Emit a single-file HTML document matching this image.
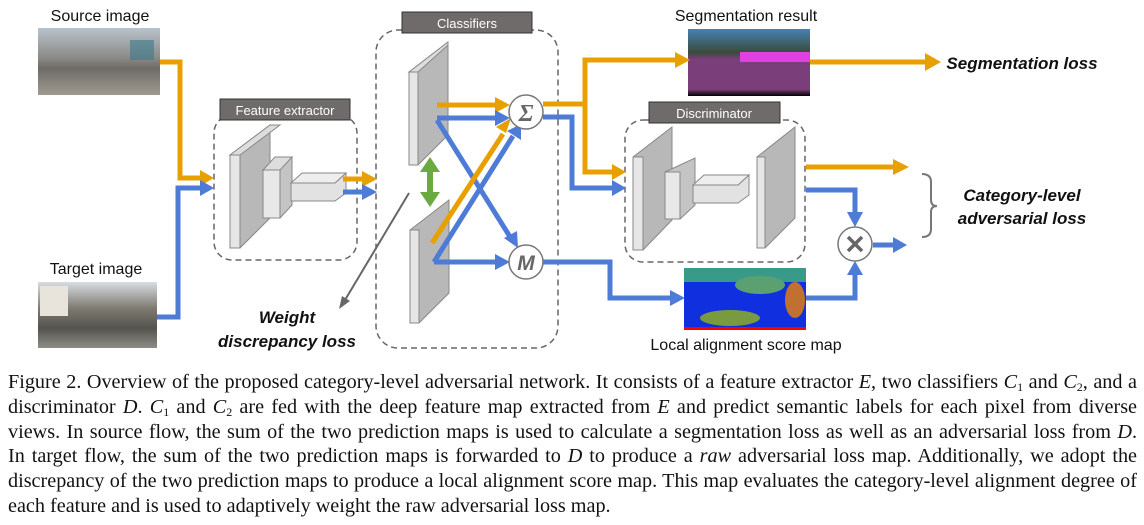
<!DOCTYPE html>
<html><head><meta charset="utf-8"><style>
body{margin:0;width:1144px;height:525px;background:#fff;overflow:hidden;position:relative;font-family:"Liberation Sans",sans-serif}
svg{position:absolute;left:0;top:0}
.cap{position:absolute;left:8px;top:370px;width:1129px;font-family:"Liberation Serif",serif;font-size:20.2px;color:#111}
.cap div{height:24.8px;line-height:24.8px;text-align:justify;text-align-last:justify;white-space:nowrap}
.cap div.l{text-align-last:left}
i{font-style:italic}
sub{font-size:12px;vertical-align:-3px;line-height:0}
</style></head><body>
<svg width="1144" height="360" viewBox="0 0 1144 360">
<defs>
<linearGradient id="src" x1="0" y1="0" x2="0" y2="1"><stop offset="0" stop-color="#b9c3cc"/><stop offset="0.45" stop-color="#8a8a86"/><stop offset="0.6" stop-color="#6e6a66"/><stop offset="1" stop-color="#a09a92"/></linearGradient>
<linearGradient id="tgt" x1="0" y1="0" x2="0" y2="1"><stop offset="0" stop-color="#d8dde2"/><stop offset="0.4" stop-color="#7d7a70"/><stop offset="0.7" stop-color="#55534e"/><stop offset="1" stop-color="#8e8c86"/></linearGradient>
<linearGradient id="seg" x1="0" y1="0" x2="0" y2="1"><stop offset="0" stop-color="#4682b4"/><stop offset="0.35" stop-color="#3a4a3a"/><stop offset="0.45" stop-color="#7a3f7a"/><stop offset="0.9" stop-color="#7a3f7a"/><stop offset="1" stop-color="#000"/></linearGradient>
</defs>
<g font-size="16" fill="#111">
<text x="100" y="21" text-anchor="middle">Source image</text>
<text x="96" y="274" text-anchor="middle">Target image</text>
<text x="746" y="21" text-anchor="middle">Segmentation result</text>
<text x="746" y="350" text-anchor="middle">Local alignment score map</text>
</g>
<g font-size="17" font-weight="bold" font-style="italic" fill="#111" text-anchor="middle">
<text x="1022" y="69">Segmentation loss</text>
<text x="1022" y="201">Category-level</text>
<text x="1022" y="224">adversarial loss</text>
<text x="287" y="323">Weight</text>
<text x="287" y="347">discrepancy loss</text>
</g>
<rect x="38" y="28" width="122" height="67" fill="url(#src)"/>
<rect x="130" y="40" width="24" height="20" fill="#3a7a8a" opacity="0.6"/>
<rect x="38" y="282" width="119" height="66" fill="url(#tgt)"/>
<rect x="40" y="286" width="28" height="30" fill="#e8e4dc"/>
<rect x="688" y="29" width="122" height="67" fill="url(#seg)"/>
<rect x="740" y="52" width="70" height="10" fill="#e040e0"/>
<rect x="684" y="268" width="122" height="62" fill="#1030e0"/>
<rect x="684" y="268" width="122" height="14" fill="#3a9a8a"/>
<ellipse cx="760" cy="285" rx="25" ry="9" fill="#5aa070"/>
<ellipse cx="795" cy="300" rx="10" ry="18" fill="#c07030"/>
<ellipse cx="730" cy="318" rx="30" ry="8" fill="#7a9a40"/>
<rect x="684" y="327" width="122" height="3" fill="#f00"/>
<g fill="none" stroke="#666" stroke-width="1.5" stroke-dasharray="6,4">
<rect x="214" y="115" width="143" height="145" rx="18"/>
<rect x="376" y="30" width="182" height="318" rx="22"/>
<rect x="625" y="120" width="180" height="142" rx="18"/>
</g>
<g fill="#6f6b6a" stroke="#333" stroke-width="1"><rect x="220" y="99" width="130" height="21"/><rect x="402" y="12" width="130" height="21"/><rect x="649" y="102" width="131" height="21"/></g>
<g fill="#fff" font-size="13" text-anchor="middle"><text x="285" y="115">Feature extractor</text><text x="467" y="28">Classifiers</text><text x="714" y="118">Discriminator</text></g>
<g stroke="#888" stroke-width="1">
<polygon points="230,155 270,125 270,218 240,248 230,248" fill="#b8b8b8"/><polygon points="230,155 240,155 240,248 230,248" fill="#e6e6e6"/><polygon points="230,155 270,125 280,125 240,155" fill="#ddd"/>
<polygon points="263,170 292,157 292,205 280,218 263,218" fill="#c4c4c4"/><polygon points="263,170 280,170 280,218 263,218" fill="#e8e8e8"/><polygon points="263,170 275,157 292,157 280,170" fill="#ddd"/>
<polygon points="291,183 335,183 346,173 346,193 335,201 291,201" fill="#e2e2e2"/><polygon points="291,183 302,173 346,173 335,183" fill="#eee"/>
<polygon points="409,72 448,42 448,135 418,165 409,165" fill="#b8b8b8"/><polygon points="409,72 418,72 418,165 409,165" fill="#e6e6e6"/><polygon points="409,72 448,42 448,45 418,72" fill="#ddd"/>
<polygon points="410,230 449,200 449,293 419,323 410,323" fill="#b8b8b8"/><polygon points="410,230 419,230 419,323 410,323" fill="#e6e6e6"/>
<polygon points="633,157 672,127 672,220 643,250 633,250" fill="#b8b8b8"/><polygon points="633,157 643,157 643,250 633,250" fill="#e6e6e6"/>
<polygon points="665,172 695,158 695,205 680,219 665,219" fill="#c4c4c4"/><polygon points="665,172 680,172 680,219 665,219" fill="#e8e8e8"/>
<polygon points="693,185 738,185 749,175 749,195 738,203 693,203" fill="#e2e2e2"/><polygon points="693,185 704,175 749,175 738,185" fill="#eee"/>
<polygon points="757,157 795,127 795,218 765,248 757,248" fill="#b8b8b8"/><polygon points="757,157 765,157 765,248 757,248" fill="#e6e6e6"/>
</g>
<g fill="none" stroke-width="5" stroke-linejoin="miter">
<path d="M160,62H180V178H200" stroke="#e8a000"/>
<path d="M157,317H178V188H200" stroke="#4e7bd6"/>
<path d="M343,179H362" stroke="#e8a000"/>
<path d="M343,192H362" stroke="#4e7bd6"/>
<path d="M437,105H495" stroke="#e8a000"/>
<path d="M437,118H495" stroke="#4e7bd6"/>
<path d="M437,120L512,240" stroke="#4e7bd6"/>
<path d="M434,262L513,136" stroke="#4e7bd6"/>
<path d="M432,243L503,134" stroke="#e8a000"/>
<path d="M434,262H495" stroke="#4e7bd6"/>
<path d="M543,104H585V60H675M585,104V172H612" stroke="#e8a000"/>
<path d="M543,117H572V188H612" stroke="#4e7bd6"/>
<path d="M543,262H610V298H670" stroke="#4e7bd6"/>
<path d="M810,62H925" stroke="#e8a000"/>
<path d="M806,167H893" stroke="#e8a000"/>
<path d="M806,190H855V212" stroke="#4e7bd6"/>
<path d="M806,298H855V275" stroke="#4e7bd6"/>
<path d="M873,245H893" stroke="#4e7bd6"/>
</g>
<g fill="#e8a000">
<polygon points="200,170 214,178 200,186"/><polygon points="362,171 377,179 362,187"/><polygon points="495,97 510,105 495,113"/>
<polygon points="496,127 511,118 506,133"/>
<polygon points="675,52 690,60 675,68"/><polygon points="612,164 626,172 612,180"/><polygon points="925,53 941,62 925,71"/><polygon points="893,159 909,167 893,175"/>
</g>
<g fill="#4e7bd6">
<polygon points="200,180 214,188 200,196"/><polygon points="362,184 377,192 362,200"/><polygon points="495,110 510,118 495,126"/>
<polygon points="504,238 518,248 517,231"/><polygon points="507,131 521,124 521,140"/>
<polygon points="495,254 510,262 495,270"/><polygon points="612,180 626,188 612,196"/><polygon points="670,290 685,298 670,306"/>
<polygon points="847,212 863,212 855,227"/><polygon points="847,275 863,275 855,261"/><polygon points="893,237 907,245 893,253"/>
</g>
<g fill="#6aaa40"><rect x="427" y="166" width="6" height="32"/><polygon points="420,172 430,157 440,172"/><polygon points="420,192 430,207 440,192"/></g>
<path d="M409,193L345,300" stroke="#666" stroke-width="2"/><polygon points="339,309 342,296 350,301" fill="#666"/>
<g fill="#fff" stroke="#777" stroke-width="1.5"><circle cx="526" cy="112" r="17"/><circle cx="526" cy="262" r="17"/><circle cx="855" cy="244" r="17"/></g>
<text x="526" y="121" text-anchor="middle" font-size="24" font-weight="bold" font-style="italic" fill="#666" font-family="Liberation Serif,serif">Σ</text>
<text x="526" y="270" text-anchor="middle" font-size="21" font-weight="bold" font-style="italic" fill="#666">M</text>
<path d="M848,237L862,251M862,237L848,251" stroke="#666" stroke-width="3.5"/>
<path d="M922,174Q931,174 931,182V200Q931,206 937,206Q931,206 931,212V229Q931,237 922,237" fill="none" stroke="#777" stroke-width="2"/>
</svg>
<div class="cap">
<div>Figure 2. Overview of the proposed category-level adversarial network. It consists of a feature extractor <i>E</i>, two classifiers <i>C</i><sub>1</sub> and <i>C</i><sub>2</sub>, and a</div>
<div>discriminator <i>D</i>. <i>C</i><sub>1</sub> and <i>C</i><sub>2</sub> are fed with the deep feature map extracted from <i>E</i> and predict semantic labels for each pixel from diverse</div>
<div>views. In source flow, the sum of the two prediction maps is used to calculate a segmentation loss as well as an adversarial loss from <i>D</i>.</div>
<div>In target flow, the sum of the two prediction maps is forwarded to <i>D</i> to produce a <i>raw</i> adversarial loss map. Additionally, we adopt the</div>
<div>discrepancy of the two prediction maps to produce a local alignment score map. This map evaluates the category-level alignment degree of</div>
<div class="l">each feature and is used to adaptively weight the raw adversarial loss map.</div>
</div>
</body></html>
